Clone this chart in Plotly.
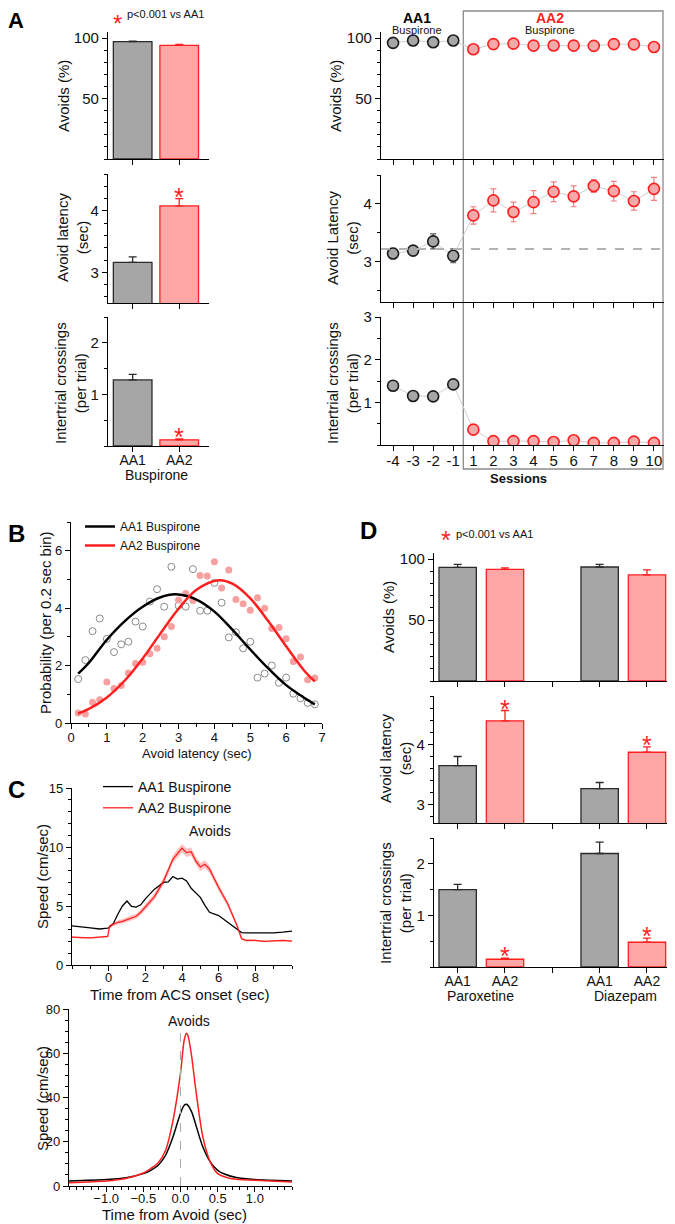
import plotly.graph_objects as go

# the page body keeps an 8px margin, so the figure is drawn 8px smaller
# and every position below is given in window pixels
W, H = 675, 1224
OFF = 8
FW, FH = W - OFF, H - OFF
FONT = "Liberation Sans, Arial, sans-serif"

# ---------------- data ----------------
# Panel A (left): Buspirone means
a_groups = ["AA1", "AA2"]
a_avoids = [97.0, 94.0]
a_avoids_err = [0.5, 0.8]
a_latency = [3.16, 4.08]
a_latency_err = [0.09, 0.12]
a_cross = [1.28, 0.12]
a_cross_err = [0.11, 0.02]

# Panel A (right): sessions
sessions = ["-4", "-3", "-2", "-1", "1", "2", "3", "4", "5", "6", "7", "8", "9", "10"]
s_avoids = [96.0, 98.0, 96.5, 98.0, 90.7, 95.0, 95.4, 93.7, 93.8, 93.7, 93.5, 95.0, 94.8, 92.6]
s_avoids_err = [1.2, 1.0, 1.0, 1.0, 1.0, 1.0, 1.0, 1.2, 1.0, 1.0, 1.0, 1.0, 1.0, 1.2]
s_latency = [3.14, 3.19, 3.35, 3.10, 3.80, 4.06, 3.86, 4.03, 4.21, 4.13, 4.31, 4.22, 4.05, 4.26]
s_latency_err = [0.09, 0.08, 0.13, 0.12, 0.15, 0.2, 0.17, 0.2, 0.17, 0.18, 0.11, 0.17, 0.16, 0.2]
s_cross = [1.39, 1.15, 1.14, 1.42, 0.36, 0.09, 0.09, 0.09, 0.07, 0.11, 0.05, 0.05, 0.08, 0.05]
s_cross_err = [0.05, 0.05, 0.05, 0.05, 0.04, 0.03, 0.03, 0.03, 0.03, 0.03, 0.02, 0.02, 0.03, 0.02]
n_aa1 = 4
aa1_latency_mean = 3.22

# Panel B: latency distributions
b_bins = [0.2, 0.4, 0.6, 0.8, 1.0, 1.2, 1.4, 1.6, 1.8, 2.0, 2.2, 2.4, 2.6, 2.8, 3.0, 3.2, 3.4,
          3.6, 3.8, 4.0, 4.2, 4.4, 4.6, 4.8, 5.0, 5.2, 5.4, 5.6, 5.8, 6.0, 6.2, 6.4, 6.6, 6.8]
b_aa1 = [1.53, 2.19, 3.2, 3.64, 2.93, 2.47, 2.74, 2.83, 3.53, 3.36, 4.23, 4.66, 4.05, 5.44, 4.09,
         4.05, 5.36, 3.91, 3.91, 4.88, 4.19, 2.98, 3.16, 2.6, 2.83, 1.58, 1.72, 2.0, 1.4, 1.58,
         1.02, 0.86, 0.7, 0.65]
b_aa2 = [0.35, 0.31, 0.72, 0.81, 1.43, 1.2, 1.31, 1.74, 2.07, 2.12, 2.41, 2.6, 3.0, 3.36, 4.28,
         4.51, 4.27, 5.14, 5.12, 5.62, 4.7, 5.33, 4.3, 4.15, 3.93, 4.36, 4.0, 3.29, 3.33, 2.93,
         2.14, 2.3, 1.51, 1.57]
fit1_x = [0.2, 0.5, 1.0, 1.5, 2.0, 2.5, 2.92, 3.5, 4.0, 4.5, 5.0, 5.5, 6.0, 6.5, 6.8]
fit1_y = [1.72, 2.1, 2.9, 3.55, 4.05, 4.38, 4.48, 4.3, 3.88, 3.25, 2.56, 1.9, 1.32, 0.88, 0.65]
fit2_x = [0.2, 0.5, 1.0, 1.5, 2.0, 2.5, 3.0, 3.5, 4.12, 4.5, 5.0, 5.5, 6.0, 6.5, 6.8]
fit2_y = [0.33, 0.49, 0.89, 1.48, 2.25, 3.13, 3.98, 4.64, 4.97, 4.85, 4.34, 3.55, 2.67, 1.83, 1.45]

# Panel C (top): speed from ACS onset
c_time = [-2, -1.5, -1, -0.5, -0.05, 0.05, 0.25, 0.5, 0.75, 1.0, 1.25, 1.5, 1.75, 2.0, 2.5, 3.0,
          3.25, 3.5, 3.75, 4.0, 4.25, 4.5, 4.75, 5.0, 5.25, 5.5, 6.0, 6.5, 7.0, 7.25, 7.5, 8.0,
          8.5, 9.0, 9.5, 10.0]
c_aa1 = [3.31, 3.2, 3.15, 3.05, 3.12, 3.2, 3.5, 4.3, 5.0, 5.42, 4.97, 4.9, 5.1, 5.6, 6.43, 7.0,
         7.05, 7.5, 7.28, 7.36, 7.13, 6.5, 6.15, 5.73, 5.06, 4.47, 4.19, 3.62, 3.0, 2.75, 2.72,
         2.7, 2.72, 2.72, 2.78, 2.87]
c_aa2 = [2.36, 2.3, 2.3, 2.36, 2.42, 3.3, 3.43, 3.62, 3.7, 3.85, 4.0, 4.13, 4.47, 4.89, 5.79,
         7.13, 7.98, 8.96, 9.44, 9.89, 9.52, 9.6, 8.82, 8.31, 8.54, 8.12, 6.57, 5.17, 3.34, 2.22,
         2.08, 2.08, 2.0, 2.02, 2.08, 2.02]
c_aa2_sem = [0.08, 0.08, 0.08, 0.08, 0.08, 0.12, 0.15, 0.18, 0.2, 0.2, 0.22, 0.22, 0.24, 0.25,
             0.28, 0.3, 0.32, 0.34, 0.35, 0.36, 0.36, 0.35, 0.35, 0.34, 0.33, 0.32, 0.3, 0.26,
             0.2, 0.12, 0.1, 0.08, 0.08, 0.08, 0.08, 0.08]

# Panel C (bottom): speed around avoid
d_time = [-1.5, -1.0, -0.75, -0.5, -0.4, -0.3, -0.2, -0.1, 0.0, 0.05, 0.08, 0.1, 0.15, 0.2, 0.3,
          0.4, 0.5, 0.6, 0.75, 1.0, 1.5]
d_aa1 = [2.3, 2.9, 3.6, 5.6, 7.1, 9.4, 13.9, 22.3, 32.9, 36.5, 37.0, 36.5, 33.5, 28.3, 17.7,
         10.9, 7.1, 5.3, 3.8, 2.9, 2.3]
d_aa2 = [1.5, 2.3, 3.3, 5.9, 7.9, 10.5, 16.2, 29.8, 51.0, 66.0, 69.0, 68.0, 58.6, 45.0, 22.3,
         10.9, 5.6, 4.1, 3.0, 2.6, 1.8]

# Panel D: paroxetine / diazepam
d_labels = ["AA1", "AA2", "", "AA1", "AA2"]
d_avoids = [93.2, 91.6, None, 93.5, 87.0]
d_avoids_err = [2.4, 1.2, 0, 2.1, 4.1]
d_latency = [3.65, 4.39, None, 3.27, 3.87]
d_latency_err = [0.15, 0.17, 0, 0.1, 0.09]
d_cross = [1.5, 0.15, None, 2.2, 0.48]
d_cross_err = [0.1, 0.02, 0, 0.22, 0.08]

GRAY, GRAY_EDGE = "#a6a6a6", "#2b2b2b"
PINK, RED = "#ffa6a6", "#ff1f1f"


def px(x):
    return (x - OFF) / FW


def py(y):
    return 1 - (y - OFF) / FH


def axis(x0, x1, y0, y1):
    return [px(x0), px(x1)], [py(y1), py(y0)]


def ax_style(dom, anchor, rng, tickvals=None, ticktext=None, minor=None, size=15, showlabels=True):
    d = dict(domain=dom, anchor=anchor, range=rng, showline=True, linecolor="black",
             linewidth=1.3, ticks="outside", ticklen=5, tickwidth=1.3, tickcolor="black",
             showgrid=False, zeroline=False, showticklabels=showlabels, automargin=False,
             tickfont=dict(size=size, color="#111", family=FONT), fixedrange=True)
    if tickvals is not None:
        d["tickmode"] = "array"
        d["tickvals"] = tickvals
        if ticktext is not None:
            d["ticktext"] = ticktext
    if minor:
        d["minor"] = dict(ticks="outside", ticklen=3, tickwidth=1, tickcolor="black",
                          tickmode="linear", tick0=0, dtick=minor)
    return d


def xbottom(d, size=None, standoff=-3):
    # bottom axes: labels sit a little closer to the axis line
    d["ticklabelstandoff"] = standoff
    if size:
        d["tickfont"]["size"] = size
    return d


fig = go.Figure()
layout = {}
annotations = []
shapes = []


def ann(text, x, y, size=15, angle=0, color="#111", bold=False, xanchor="center", yanchor="middle"):
    if bold:
        text = "<b>" + text + "</b>"
    annotations.append(dict(text=text, x=px(x), y=py(y), xref="paper", yref="paper",
                            showarrow=False, textangle=angle, xanchor=xanchor, yanchor=yanchor,
                            font=dict(size=size, color=color, family=FONT)))


def star(xref, yref, x, y):
    annotations.append(dict(text="*", x=x, y=y, xref=xref, yref=yref, showarrow=False,
                            xanchor="center", yanchor="bottom", yshift=-14,
                            font=dict(size=25, color=RED, family=FONT)))


def pnote(x, y, top=None):
    # red star + "p<0.001 vs AA1"; the star glyph sits high in its box
    if top is None:
        ann("*", x, y + 5, size=25, color=RED)
    else:
        ann("*", x, top, size=24, color=RED, yanchor="top")
    ann("p&lt;0.001 vs AA1", x + 8, y - 1, size=11, xanchor="left")


def bars(n, xs, vals, errs, colors, edges, width):
    for x, v, e, c, ec in zip(xs, vals, errs, colors, edges):
        if v is None:
            continue
        fig.add_trace(go.Bar(x=[x], y=[v], width=width, xaxis="x%d" % n, yaxis="y%d" % n,
                             marker=dict(color=c, line=dict(color=ec, width=1.3)),
                             error_y=dict(type="data", symmetric=False, array=[e], arrayminus=[0],
                                          color=ec, thickness=1.3, width=4),
                             showlegend=False))


# ---------- Panel A left ----------
a_x = list(range(len(a_groups)))
a_cols, a_edges = [GRAY, PINK], [GRAY_EDGE, RED]
xl = [-0.53, 1.64]
for n, (vals, errs, y0, y1, rng, tv, mn) in enumerate([
        (a_avoids, a_avoids_err, 32, 159, [0, 105], [50, 100], 10),
        (a_latency, a_latency_err, 174, 303, [2.5, 4.6], [3, 4], 0.2),
        (a_cross, a_cross_err, 317, 446, [0, 2.5], [1, 2], 0.5)], start=1):
    xd, yd = axis(108, 209, y0, y1)
    bars(n, a_x, vals, errs, a_cols, a_edges, 0.83)
    last = n == 3
    layout["xaxis%d" % n] = ax_style(xd, "y%d" % n, xl, a_x, a_groups if last else None,
                                     showlabels=last)
    layout["yaxis%d" % n] = ax_style(yd, "x%d" % n, rng, tv, minor=mn)
xbottom(layout["xaxis3"], size=14, standoff=-4)
star("x2", "y2", 1, a_latency[1] + a_latency_err[1])
star("x3", "y3", 1, a_cross[1] + a_cross_err[1])
ann("Buspirone", 156, 475, size=14)
ann("Avoids (%)", 63, 96, angle=-90)
ann("Avoid latency<br>(sec)", 72, 238, angle=-90)
ann("Intertrial crossings<br>(per trial)", 70, 383, angle=-90)
ann("A", 16, 21, size=22, bold=True, color="black")
pnote(117, 15, top=8)

# ---------- Panel A right ----------
s_x = list(range(len(sessions)))
sl = [-0.6, 13.5]
for n, (vals, errs, y0, y1, rng, tv, mn) in enumerate([
        (s_avoids, s_avoids_err, 32, 159, [0, 105], [50, 100], 10),
        (s_latency, s_latency_err, 175, 302, [2.3, 4.5], [3, 4], 0.5),
        (s_cross, s_cross_err, 317, 445, [0, 3], [1, 2, 3], 0.5)], start=4):
    xd, yd = axis(381, 664, y0, y1)
    xa, ya = "x%d" % n, "y%d" % n
    fig.add_trace(go.Scatter(x=s_x, y=vals, mode="lines", xaxis=xa, yaxis=ya,
                             line=dict(color="#d0d0d0", width=1), showlegend=False))
    fig.add_trace(go.Scatter(x=s_x[:n_aa1], y=vals[:n_aa1], mode="markers", xaxis=xa, yaxis=ya,
                             error_y=dict(type="data", array=errs[:n_aa1], color="#555",
                                          thickness=1.2, width=3),
                             marker=dict(size=11, color=GRAY, line=dict(color="#1a1a1a", width=1.6)),
                             showlegend=False))
    fig.add_trace(go.Scatter(x=s_x[n_aa1:], y=vals[n_aa1:], mode="markers", xaxis=xa, yaxis=ya,
                             error_y=dict(type="data", array=errs[n_aa1:], color="#f08080",
                                          thickness=1.2, width=3),
                             marker=dict(size=11, color="#f7a8a8", line=dict(color=RED, width=1.6)),
                             showlegend=False))
    last = n == 6
    layout["xaxis%d" % n] = ax_style(xd, ya, sl, s_x, sessions if last else None, showlabels=last)
    layout["yaxis%d" % n] = ax_style(yd, xa, rng, tv, minor=mn)
xbottom(layout["xaxis6"])
shapes.append(dict(type="rect", xref="x4", yref="paper", x0=3.5, x1=13.45, y0=py(469), y1=py(11),
                   line=dict(color="#8c8c8c", width=1.3), layer="below"))
shapes.append(dict(type="line", xref="x5 domain", yref="y5", x0=0, x1=1, y0=aa1_latency_mean,
                   y1=aa1_latency_mean, line=dict(color="#b3b3b3", width=2, dash="dash")))
ann("AA1", 417, 18, size=14, bold=True, color="black")
ann("Buspirone", 417, 30, size=11)
ann("AA2", 550, 18, size=14, bold=True, color=RED)
ann("Buspirone", 550, 30, size=11)
ann("Sessions", 518, 478, size=13, bold=True)
ann("Avoids (%)", 335, 96, angle=-90)
ann("Avoid Latency<br>(sec)", 342, 238, angle=-90)
ann("Intertrial crossings<br>(per trial)", 342, 383, angle=-90)

# ---------- Panel B ----------
xd, yd = axis(71, 322, 522, 723)
fig.add_trace(go.Scatter(x=b_bins, y=b_aa1, mode="markers", xaxis="x7", yaxis="y7",
                         marker=dict(symbol="circle-open", size=7, color="#8a8a8a",
                                     line=dict(width=1)), showlegend=False))
fig.add_trace(go.Scatter(x=b_bins, y=b_aa2, mode="markers", xaxis="x7", yaxis="y7",
                         marker=dict(size=7, color="#f6a0a0"), showlegend=False))
fig.add_trace(go.Scatter(x=fit1_x, y=fit1_y, mode="lines", xaxis="x7", yaxis="y7",
                         line=dict(color="black", width=2.5, shape="spline"),
                         name="AA1 Buspirone", legend="legend"))
fig.add_trace(go.Scatter(x=fit2_x, y=fit2_y, mode="lines", xaxis="x7", yaxis="y7",
                         line=dict(color=RED, width=2.5, shape="spline"),
                         name="AA2 Buspirone", legend="legend"))
layout["xaxis7"] = xbottom(ax_style(xd, "y7", [0, 7], list(range(8)), minor=0.5, size=13))
layout["yaxis7"] = ax_style(yd, "x7", [0, 7], [0, 2, 4, 6], minor=1, size=13)
ann("Probability (per 0.2 sec bin)", 45, 623, angle=-90)
ann("Avoid latency (sec)", 197, 753, size=13)
ann("B", 16, 533, size=24, bold=True, color="black")

# ---------- Panel C top ----------
xd, yd = axis(72, 292, 788, 965)
up = [v + s for v, s in zip(c_aa2, c_aa2_sem)]
lo = [v - s for v, s in zip(c_aa2, c_aa2_sem)]
fig.add_trace(go.Scatter(x=c_time + c_time[::-1], y=up + lo[::-1], fill="toself", mode="none",
                         fillcolor="rgba(255,120,120,0.45)", xaxis="x8", yaxis="y8",
                         showlegend=False, hoverinfo="skip"))
fig.add_trace(go.Scatter(x=c_time, y=c_aa1, mode="lines", xaxis="x8", yaxis="y8",
                         line=dict(color="black", width=1.3), name="AA1 Buspirone",
                         legend="legend2"))
fig.add_trace(go.Scatter(x=c_time, y=c_aa2, mode="lines", xaxis="x8", yaxis="y8",
                         line=dict(color=RED, width=1.3), name="AA2 Buspirone",
                         legend="legend2"))
layout["xaxis8"] = xbottom(ax_style(xd, "y8", [-2, 10], [0, 2, 4, 6, 8], minor=1, size=13),
                           standoff=-5)
layout["yaxis8"] = ax_style(yd, "x8", [0, 15], [0, 5, 10, 15], minor=1, size=13)
ann("Speed (cm/sec)", 42, 877, angle=-90)
ann("Time from ACS onset (sec)", 180, 994)
ann("Avoids", 210, 831, size=14)
ann("C", 16, 789, size=24, bold=True, color="black")

# ---------- Panel C bottom ----------
xd, yd = axis(69, 292, 1009, 1186)
shapes.append(dict(type="line", xref="x9", yref="y9", x0=0, x1=0, y0=0, y1=71,
                   line=dict(color="#aaaaaa", width=1, dash="dash")))
fig.add_trace(go.Scatter(x=d_time, y=d_aa1, mode="lines", xaxis="x9", yaxis="y9",
                         line=dict(color="black", width=1.5, shape="spline", smoothing=0.8),
                         showlegend=False))
fig.add_trace(go.Scatter(x=d_time, y=d_aa2, mode="lines", xaxis="x9", yaxis="y9",
                         line=dict(color=RED, width=1.5, shape="spline", smoothing=0.8),
                         showlegend=False))
layout["xaxis9"] = xbottom(ax_style(xd, "y9", [-1.5, 1.5], [-1, -0.5, 0, 0.5, 1], minor=0.1,
                                    size=13), standoff=-5)
layout["xaxis9"]["tickformat"] = ".1f"
layout["yaxis9"] = ax_style(yd, "x9", [0, 80], [0, 20, 40, 60, 80], minor=5, size=13)
ann("Speed (cm/sec)", 42, 1099, angle=-90)
ann("Time from Avoid (sec)", 174, 1214)
ann("Avoids", 189, 1021, size=14)

# ---------- Panel D ----------
d_x = list(range(len(d_labels)))
d_cols = [GRAY, PINK, GRAY, GRAY, PINK]
d_edges = [GRAY_EDGE, RED, GRAY_EDGE, GRAY_EDGE, RED]
dl = [-0.5, 4.55]
for n, (vals, errs, y0, y1, rng, tv, mn) in enumerate([
        (d_avoids, d_avoids_err, 553, 681, [0, 105], [50, 100], 10),
        (d_latency, d_latency_err, 696, 823, [2.7, 4.8], [3, 4], 0.2),
        (d_cross, d_cross_err, 838, 967, [0, 2.5], [1, 2], 0.5)], start=10):
    xd, yd = axis(434, 673, y0, y1)
    bars(n, d_x, vals, errs, d_cols, d_edges, 0.79)
    last = n == 12
    layout["xaxis%d" % n] = ax_style(xd, "y%d" % n, dl, d_x, d_labels if last else None,
                                     showlabels=last)
    layout["yaxis%d" % n] = ax_style(yd, "x%d" % n, rng, tv, minor=mn)
xbottom(layout["xaxis12"], size=14, standoff=-4)
for i in (1, 4):
    star("x11", "y11", i, d_latency[i] + d_latency_err[i])
    star("x12", "y12", i, d_cross[i] + d_cross_err[i])
ann("Paroxetine", 480, 996, size=14)
ann("Diazepam", 625, 996, size=14)
ann("Avoids (%)", 388, 617, angle=-90)
ann("Avoid latency<br>(sec)", 395, 759, angle=-90)
ann("Intertrial crossings<br>(per trial)", 395, 903, angle=-90)
ann("D", 368, 530, size=24, bold=True, color="black")
pnote(446, 535)

fig.update_layout(
    width=FW, height=FH, margin=dict(l=0, r=0, t=0, b=0),
    paper_bgcolor="white", plot_bgcolor="white",
    font=dict(family=FONT, color="#111"),
    barmode="overlay",
    annotations=annotations, shapes=shapes,
    legend=dict(x=px(80), y=py(512), xanchor="left", yanchor="top", bgcolor="rgba(0,0,0,0)",
                font=dict(size=12, family=FONT), tracegroupgap=0, itemwidth=30),
    legend2=dict(x=px(98), y=py(771), xanchor="left", yanchor="top", bgcolor="rgba(0,0,0,0)",
                 font=dict(size=14, family=FONT), tracegroupgap=0, itemwidth=30),
    **layout,
)

fig.write_html("out.html")
